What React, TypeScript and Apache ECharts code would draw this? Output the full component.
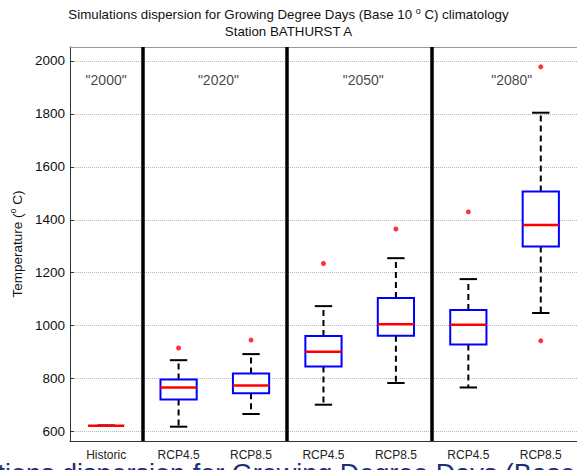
import React, { useEffect, useRef } from "react";
import * as echarts from "echarts";

const categories = ["Historic", "RCP4.5", "RCP8.5", "RCP4.5", "RCP8.5", "RCP4.5", "RCP8.5"];
// [low whisker, q1, median, q3, high whisker]
const boxStats = [
  [623, 623, 623, 623, 623],
  [619, 722, 767, 797, 870],
  [667, 745, 774, 820, 893],
  [702, 846, 902, 961, 1074],
  [784, 962, 1006, 1105, 1255],
  [767, 929, 1004, 1059, 1176],
  [1048, 1299, 1380, 1507, 1804],
];
// [category index, value]
const outliers = [
  [1, 916],
  [2, 946],
  [3, 1235],
  [4, 1365],
  [5, 1430],
  [6, 1977],
  [6, 943],
];
const groupLabels = ['"2000"', '"2020"', '"2050"', '"2080"'];
const groupLabelX = [0, 1.55, 3.55, 5.6];
const groupLabelY = 1927;
const separators = [0.5, 2.5, 4.5];
const yTicks = [600, 800, 1000, 1200, 1400, 1600, 1800, 2000];

const FONT = "Liberation Sans, Arial, sans-serif";

export default function App() {
  const ref = useRef<HTMLDivElement>(null);
  useEffect(() => {
    if (!ref.current) return;
    const chart = echarts.init(ref.current, undefined, { renderer: "svg" });
    const boxData = boxStats.map((s, i) => [i, ...s]);
    const option: any = {
      animation: false,
      backgroundColor: "#ffffff",
      textStyle: { fontFamily: FONT },
      title: {
        left: "center",
        top: 1,
        text:
          "{a|Simulations dispersion for Growing Degree Days (Base 10 }{s|o}{a| C) climatology}\n{a|Station BATHURST A}",
        textStyle: {
          fontFamily: FONT,
          fontWeight: "normal",
          color: "#111",
          fontSize: 13.3,
          lineHeight: 17,
          rich: {
            a: { fontFamily: FONT, fontSize: 13.3, color: "#111", lineHeight: 17 },
            s: { fontFamily: FONT, fontSize: 9, color: "#111", lineHeight: 17, verticalAlign: "top" },
          },
        },
      },
      grid: { left: 69, right: 0, top: 47, bottom: 29, show: false },
      xAxis: [
        {
          type: "category",
          data: categories,
          boundaryGap: true,
          position: "bottom",
          axisLine: { show: true, onZero: false, lineStyle: { color: "#333", width: 1 } },
          axisTick: { show: false },
          axisLabel: { color: "#222", fontSize: 12, margin: 8, fontFamily: FONT, interval: 0 },
          splitLine: { show: false },
        },
        {
          type: "value",
          min: -0.5,
          max: 6.5,
          position: "top",
          axisLine: { show: true, onZero: false, lineStyle: { color: "#999", width: 1 } },
          axisTick: { show: false },
          axisLabel: { show: false },
          splitLine: { show: false },
        },
      ],
      yAxis: {
        type: "value",
        min: 565,
        max: 2052,
        name: "{a|Temperature (}{s|o}{a| C)}",
        nameLocation: "middle",
        nameGap: 31,
        nameRotate: 90,
        nameTextStyle: {
          fontFamily: FONT,
          fontSize: 13.5,
          color: "#111",
          rich: {
            a: { fontFamily: FONT, fontSize: 13.5, color: "#111", lineHeight: 18 },
            s: { fontFamily: FONT, fontSize: 9, color: "#111", lineHeight: 18, verticalAlign: "top" },
          },
        },
        axisLine: { show: true, onZero: false, lineStyle: { color: "#333", width: 1 } },
        axisTick: { show: true, inside: true, length: 4, customValues: yTicks, lineStyle: { color: "#333" } },
        axisLabel: {
          customValues: yTicks,
          color: "#111",
          fontSize: 13.5,
          margin: 5,
          fontFamily: FONT,
          formatter: (v: number) => String(v),
        },
        splitLine: { show: true, lineStyle: { color: "#b4b4b4", type: "dotted", width: 1 } },
      },
      graphic: [
        {
          type: "text",
          x: -85,
          y: 474,
          silent: true,
          style: {
            text: "Simulations dispersion for Growing Degree Days (Base 10 \u00B0C) climatology",
            fontSize: 27,
            fontFamily: FONT,
            fill: "#1f2d7a",
            verticalAlign: "middle",
          },
        },
      ],
      series: [
        {
          type: "custom",
          xAxisIndex: 0,
          yAxisIndex: 0,
          data: boxData,
          z: 5,
          renderItem: (params: any, api: any) => {
            const idx = api.value(0);
            const low = api.value(1);
            const q1 = api.value(2);
            const med = api.value(3);
            const q3 = api.value(4);
            const high = api.value(5);
            const band = api.size([1, 0])[0];
            const bw = band * 0.5;
            const cw = band * 0.24;
            const pLow = api.coord([idx, low]);
            const pQ1 = api.coord([idx, q1]);
            const pMed = api.coord([idx, med]);
            const pQ3 = api.coord([idx, q3]);
            const pHigh = api.coord([idx, high]);
            const cx = pMed[0];
            const dash = { stroke: "#000", lineWidth: 2, lineDash: [6, 4] };
            const solid = { stroke: "#000", lineWidth: 2 };
            return {
              type: "group",
              children: [
                { type: "line", shape: { x1: cx, y1: pQ3[1], x2: cx, y2: pHigh[1] }, style: dash },
                { type: "line", shape: { x1: cx, y1: pQ1[1], x2: cx, y2: pLow[1] }, style: dash },
                { type: "line", shape: { x1: cx - cw / 2, y1: pHigh[1], x2: cx + cw / 2, y2: pHigh[1] }, style: solid },
                { type: "line", shape: { x1: cx - cw / 2, y1: pLow[1], x2: cx + cw / 2, y2: pLow[1] }, style: solid },
                {
                  type: "rect",
                  shape: { x: cx - bw / 2, y: pQ3[1], width: bw, height: pQ1[1] - pQ3[1] },
                  style: { fill: "#fff", stroke: "#0000ff", lineWidth: 2 },
                  invisible: q3 === q1,
                },
                {
                  type: "line",
                  shape: { x1: cx - bw / 2, y1: pMed[1], x2: cx + bw / 2, y2: pMed[1] },
                  style: { stroke: "#ff0000", lineWidth: 2.5 },
                },
              ],
            };
          },
        },
        {
          type: "scatter",
          xAxisIndex: 0,
          yAxisIndex: 0,
          data: outliers,
          symbol: "circle",
          symbolSize: 5,
          itemStyle: { color: "#ff0000" },
          z: 6,
        },
        {
          type: "scatter",
          xAxisIndex: 1,
          yAxisIndex: 0,
          data: groupLabels.map((t, i) => ({ value: [groupLabelX[i], groupLabelY], name: t })),
          symbolSize: 0,
          label: {
            show: true,
            position: "inside",
            formatter: (p: any) => p.name,
            color: "#111",
            fontSize: 14,
            fontFamily: FONT,
          },
          markLine: {
            silent: true,
            symbol: "none",
            label: { show: false },
            lineStyle: { color: "#000", width: 3.5, type: "solid" },
            data: separators.map((x) => ({ xAxis: x })),
          },
          z: 7,
        },
      ],
    };
    chart.setOption(option);
    return () => chart.dispose();
  }, []);
  return (
    <div
      ref={ref}
      style={{ position: "fixed", left: 0, top: 0, width: 577, height: 470 }}
    />
  );
}
